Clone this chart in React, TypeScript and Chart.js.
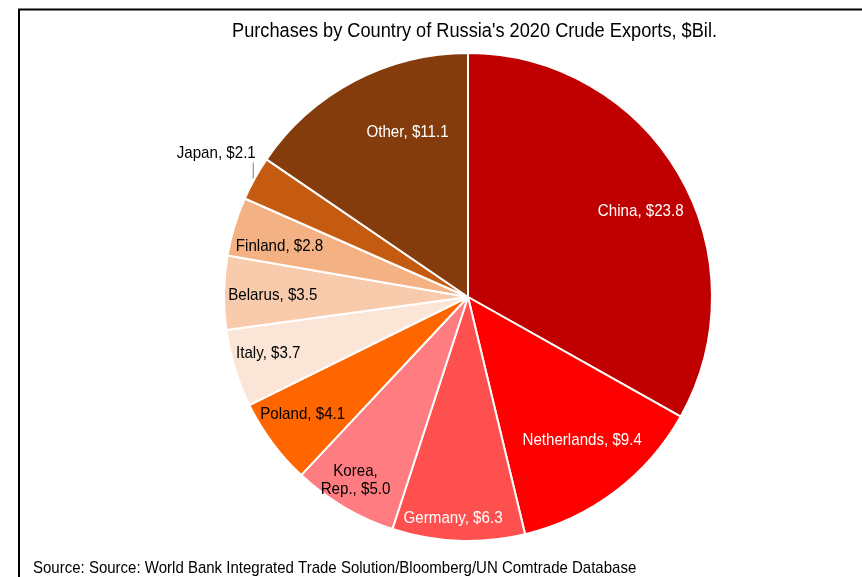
import React, { useEffect, useRef } from "react";
import { Chart, registerables } from "chart.js";

Chart.register(...registerables);

const countries = ["China", "Netherlands", "Germany", "Korea, Rep.", "Poland", "Italy", "Belarus", "Finland", "Japan", "Other"];
const values = [23.8, 9.4, 6.3, 5.0, 4.1, 3.7, 3.5, 2.8, 2.1, 11.1];
const sliceColors = ["#C00000", "#FF0000", "#FF5050", "#FF7C80", "#FF6600", "#FBE5D6", "#F8CBAD", "#F4B183", "#C55A11", "#843C0C"];
const labelColors = ["#FFFFFF", "#FFFFFF", "#FFFFFF", "#000000", "#000000", "#000000", "#000000", "#000000", "#000000", "#FFFFFF"];
const titleText = "Purchases by Country of Russia's 2020 Crude Exports, $Bil.";
const sourceText = "Source: Source: World Bank Integrated Trade Solution/Bloomberg/UN Comtrade Database";

// label placement (fraction of radius, angular shift in degrees)
const labelRadius = [0.79, 0.75, 0.91, 0.88, 0.83, 0.85, 0.8, 0.8, 1.0, 0.72];
const labelShift = [4, -1.5, 1.6, 1, 1.3, 1.4, -0.4, -1.7, 0, 7.7];

const FONT = "'Liberation Sans', Arial, sans-serif";
const LABEL_SIZE = 17;
const LABEL_SX = 0.89;

function drawText(ctx: CanvasRenderingContext2D, text: string, x: number, y: number, size: number, color: string, align: CanvasTextAlign, sx: number, baseline: CanvasTextBaseline = "middle") {
  ctx.save();
  ctx.translate(x, y);
  ctx.scale(sx, 1);
  ctx.font = `${size}px ${FONT}`;
  ctx.fillStyle = color;
  ctx.textAlign = align;
  ctx.textBaseline = baseline;
  ctx.fillText(text, 0, 0);
  ctx.restore();
}

const decorPlugin = {
  id: "decor",
  beforeDraw(chart: any) {
    const ctx = chart.ctx as CanvasRenderingContext2D;
    ctx.save();
    ctx.fillStyle = "#FFFFFF";
    ctx.fillRect(0, 0, chart.width, chart.height);
    ctx.strokeStyle = "#000000";
    ctx.lineWidth = 2;
    ctx.beginPath();
    ctx.moveTo(19, chart.height);
    ctx.lineTo(19, 9.5);
    ctx.lineTo(chart.width, 9.5);
    ctx.stroke();
    ctx.restore();
    drawText(ctx, titleText, 474.5, 37, 20, "#000000", "center", 0.91, "alphabetic");
    drawText(ctx, sourceText, 33, 573, 17, "#000000", "left", 0.883, "alphabetic");
  },
  afterDatasetsDraw(chart: any) {
    const ctx = chart.ctx as CanvasRenderingContext2D;
    const meta = chart.getDatasetMeta(0);
    meta.data.forEach((arc: any, i: number) => {
      const { x, y, startAngle, endAngle, outerRadius } = arc.getProps(["x", "y", "startAngle", "endAngle", "outerRadius"], true);
      const mid = (startAngle + endAngle) / 2 + (labelShift[i] * Math.PI) / 180;
      const text = `${countries[i]}, $${values[i].toFixed(1)}`;
      if (countries[i] === "Japan") {
        const ax = x + outerRadius * Math.cos(mid);
        const ay = y + outerRadius * Math.sin(mid);
        ctx.save();
        ctx.strokeStyle = "#7F7F7F";
        ctx.lineWidth = 1;
        ctx.beginPath();
        ctx.moveTo(ax - 1.5, ay);
        ctx.lineTo(ax - 1.5, ay - 16);
        ctx.stroke();
        ctx.restore();
        drawText(ctx, text, ax + 1, ay - 25, LABEL_SIZE, labelColors[i], "right", LABEL_SX);
        return;
      }
      const r = outerRadius * labelRadius[i];
      const lx = x + r * Math.cos(mid);
      const ly = y + r * Math.sin(mid);
      if (countries[i].includes(", ")) {
        const parts = countries[i].split(", ");
        drawText(ctx, parts[0] + ",", lx, ly - 9, LABEL_SIZE, labelColors[i], "center", LABEL_SX);
        drawText(ctx, `${parts[1]}, $${values[i].toFixed(1)}`, lx, ly + 9, LABEL_SIZE, labelColors[i], "center", LABEL_SX);
      } else {
        drawText(ctx, text, lx, ly, LABEL_SIZE, labelColors[i], "center", LABEL_SX);
      }
    });
  },
};

export default function App() {
  const ref = useRef<HTMLCanvasElement | null>(null);
  useEffect(() => {
    if (!ref.current) return;
    const chart = new Chart(ref.current, {
      type: "pie",
      data: {
        labels: countries,
        datasets: [
          {
            data: values,
            backgroundColor: sliceColors,
            borderColor: "#FFFFFF",
            borderWidth: 2,
          },
        ],
      },
      options: {
        responsive: false,
        animation: false,
        devicePixelRatio: 1,
        layout: { padding: { top: 52, bottom: 35, left: 223, right: 149 } },
        plugins: {
          legend: { display: false },
          title: { display: false },
          tooltip: { enabled: false },
        },
      },
      plugins: [decorPlugin],
    });
    return () => chart.destroy();
  }, []);
  return (
    <div style={{ position: "absolute", left: 0, top: 0, width: 862, height: 577, background: "#fff" }}>
      <canvas ref={ref} width={862} height={577} style={{ width: 862, height: 577, display: "block" }} />
    </div>
  );
}
